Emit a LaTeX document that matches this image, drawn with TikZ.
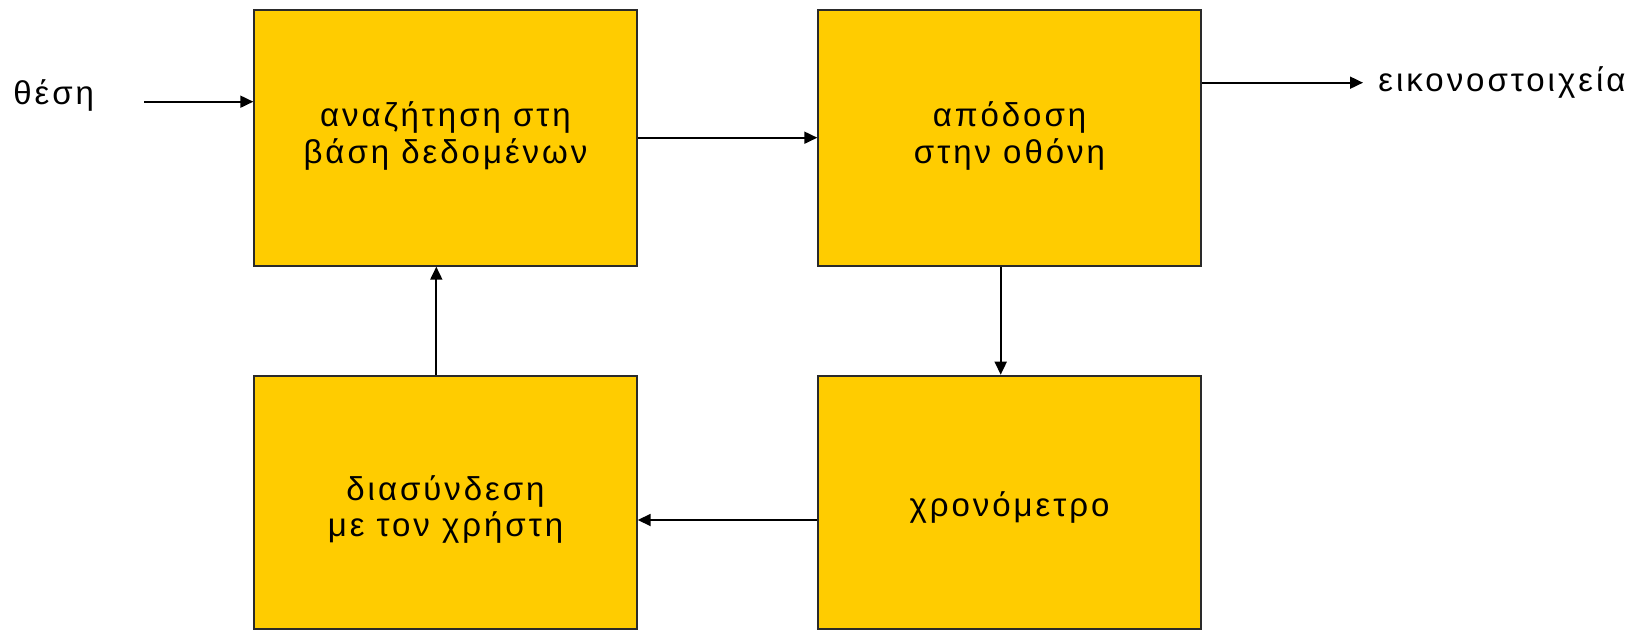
\documentclass[tikz,border=0pt]{standalone}
\usepackage{fontspec}
\setmainfont{Liberation Sans}[LetterSpace=9]
\usetikzlibrary{arrows.meta}
\definecolor{boxyellow}{HTML}{FFCC00}
\definecolor{edgegray}{HTML}{2A2A2A}
\begin{document}
\begin{tikzpicture}[x=0.5pt,y=-0.5pt,
  txt/.style={font=\fontsize{16.5}{18.3}\selectfont, text=black},
  blockbox/.style={draw=edgegray, line width=1pt, fill=boxyellow,
    minimum width=191.2pt, minimum height=128pt, inner sep=0pt},
  lowbox/.style={blockbox, minimum height=126.6pt},
  boxtext/.style={txt, align=center, inner sep=0pt, anchor=base},
  flow/.style={draw=black, line width=0.9pt,
    -{Triangle[length=6.5pt,width=6pt]}}]
\useasboundingbox (0,0) rectangle (1647,630);

% blocks (multi-line captions are placed by the baseline of their last line)
\node[blockbox] (search) at (445.5,137.7) {};
\node[boxtext] (searchtxt) at (445.5,163.3) {αναζήτηση στη\\βάση δεδομένων};
\node[blockbox] (render) at (1009.5,137.7) {};
\node[boxtext] (rendertxt) at (1009.5,163.3) {απόδοση\\στην οθόνη};
\node[lowbox] (user) at (445.5,502.3) {};
\node[boxtext] (usertxt) at (445.5,536.7) {διασύνδεση\\με τον χρήστη};
\node[lowbox] (timer) at (1009.5,502.3) {};
\node[boxtext] (timertxt) at (1009.5,516.7) {χρονόμετρο};

% input and output labels
\node[txt, anchor=base west, inner sep=0pt] (pos) at (13,105) {θέση};
\node[txt, anchor=base west, inner sep=0pt] (pix) at (1378,91.7) {εικονοστοιχεία};
\coordinate (inStart) at (144,101.7);
\coordinate (outEnd) at (1363,82.7);

% connectors
\draw[flow] (inStart) -- (search.west |- inStart);
\draw[flow] (search.east) -- (render.west);
\draw[flow] (render.east |- outEnd) -- (outEnd);
\draw[flow] ([xshift=-4.4pt]render.south) -- ([xshift=-4.4pt]timer.north);
\draw[flow] (timer.west |- 0,520) -- (user.east |- 0,520);
\draw[flow] ([xshift=-4.6pt]user.north) -- ([xshift=-4.6pt]search.south);
\end{tikzpicture}
\end{document}
